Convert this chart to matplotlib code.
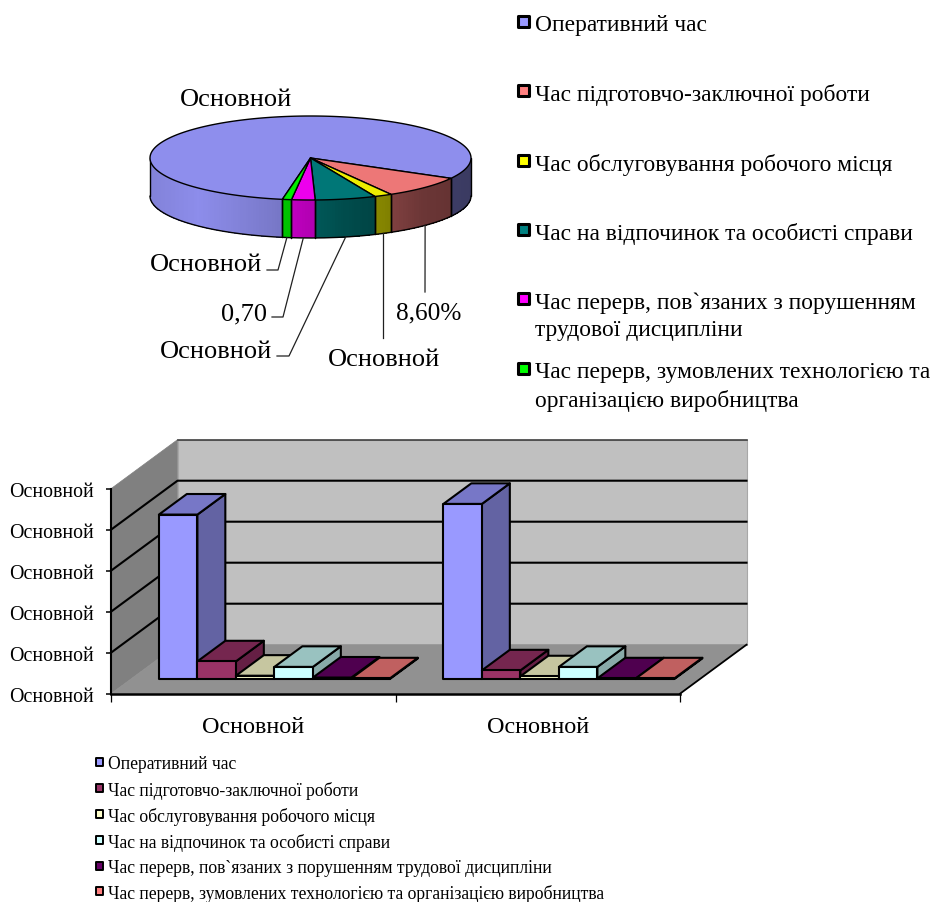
import numpy as np
import matplotlib
matplotlib.use("Agg")
import matplotlib.pyplot as plt
from matplotlib.patches import Polygon, Rectangle
from matplotlib.transforms import ScaledTranslation

plt.rcParams["font.family"] = ["Liberation Serif", "DejaVu Serif"]

# ---- data ----
series_names = [
    "Оперативний час",
    "Час підготовчо-заключної роботи",
    "Час обслуговування робочого місця",
    "Час на відпочинок та особисті справи",
    "Час перерв, пов`язаних з порушенням трудової дисципліни",
    "Час перерв, зумовлених технологією та організацією виробництва",
]
side_legend_rows = [
    ["Оперативний час"],
    ["Час підготовчо-заключної роботи"],
    ["Час обслуговування робочого місця"],
    ["Час на відпочинок та особисті справи"],
    ["Час перерв, пов`язаних з порушенням", "трудової дисципліни"],
    ["Час перерв, зумовлених технологією та", "організацією виробництва"],
]
pie_values = [23.79, 2.55, 0.53, 1.81, 0.70, 0.27]
group_1_values = [80.2, 8.6, 1.6, 5.9, 0.7, 0.3]
group_2_values = [85.4, 4.2, 1.3, 5.9, 0.3, 0.3]
placeholder = "Основной"
pie_colors = ["#9999ff", "#ff8080", "#ffff00", "#008080", "#ff00ff", "#00ff00"]
bar_front = ["#9999ff", "#993366", "#ffffcc", "#ccffff", "#660066", "#ff8080"]
bar_top = ["#7777c7", "#75264f", "#c6c6a0", "#99c2c0", "#4f004f", "#c06060"]
bar_side = ["#6363a3", "#651f44", "#a8a888", "#88aaa8", "#3c003c", "#a05050"]
y_ticks = [0, 20, 40, 60, 80, 100]

W, H = 931, 903
fig = plt.figure(figsize=(W / 100, H / 100), dpi=100, facecolor="white")


def fig_rect(x0, y0, x1, y1):
    """Figure-fraction rectangle from pixel edges measured from the top left."""
    return [x0 / W, 1 - y1 / H, (x1 - x0) / W, (y1 - y0) / H]


# Page layer for legends and labels, in pixel units.
page = fig.add_axes([0, 0, 1, 1], zorder=5)
page.set_xlim(0, W)
page.set_ylim(H, 0)
page.axis("off")
page.patch.set_alpha(0)

# ---- 3-D pie: top face is the unit circle stretched onto an ellipse ----
PIE_BOX = (150, 117, 471, 201)
pie = fig.add_axes(fig_rect(*PIE_BOX))
pie.set_xlim(-1, 1)
pie.set_ylim(-1, 1)
pie.axis("off")
THICK = 38 / 42
FIRST_ANGLE = 190.1


def to_pie(px, py):
    x0, y0, x1, y1 = PIE_BOX
    return (px - x0) / (x1 - x0) * 2 - 1, 1 - (py - y0) / (y1 - y0) * 2


def rim(phi):
    a = np.radians(phi)
    return np.sin(a), np.cos(a)


def side_shade(sx):
    return np.interp(sx, [-1, -0.7, -0.2, 0, 0.2, 0.5, 0.7, 1],
                     [0.85, 0.92, 0.78, 0.70, 0.60, 0.50, 0.42, 0.38])


total = sum(pie_values)
edges = FIRST_ANGLE + np.concatenate([[0], np.cumsum(pie_values)]) / total * 360
mid_angles = (edges[:-1] + edges[1:]) / 2
lk = dict(color="black", lw=1.0, clip_on=False, solid_capstyle="round")

# Side wall, only along the front half of the rim.
for i, col in enumerate(pie_colors):
    base = np.array(matplotlib.colors.to_rgb(col))
    for turn in (-360, 0, 360):
        lo = max(edges[i] + turn, 90)
        hi = min(edges[i + 1] + turn, 270)
        if hi <= lo:
            continue
        steps = np.linspace(lo, hi, max(2, int(hi - lo) + 2))
        for a0, a1 in zip(steps[:-1], steps[1:]):
            x0, y0 = rim(a0)
            x1, y1 = rim(a1)
            c = base * side_shade((x0 + x1) / 2)
            pie.add_patch(Polygon([(x0, y0), (x1, y1), (x1, y1 - THICK), (x0, y0 - THICK)],
                                  facecolor=c, edgecolor="none", lw=0, antialiased=False,
                                  clip_on=False, zorder=1))
        for a in (lo, hi):
            x, y = rim(a)
            pie.plot([x, x], [y, y - THICK], zorder=2, **lk)

front = np.linspace(90, 270, 200)
fx, fy = rim(front)
pie.plot(fx, fy - THICK, zorder=2, **lk)

# Top face.
for i, col in enumerate(pie_colors):
    arc = np.linspace(edges[i], edges[i + 1], 240)
    ax_, ay_ = rim(arc)
    pts = np.column_stack([np.r_[0, ax_], np.r_[0, ay_]])
    top = np.array(matplotlib.colors.to_rgb(col)) * 0.93
    pie.add_patch(Polygon(pts, closed=True, facecolor=top, edgecolor="black",
                          lw=1.0, clip_on=False, zorder=3, joinstyle="round"))

# Leader lines run from each slice's rim to its label.
leader_ends = {
    1: [(425, 293)],
    2: [(None, 339)],
    3: [(289, 357), (277, 357)],
    4: [(283, 318), (272, 318)],
    5: [(278, 271), (267, 271)],
}
for i, tail in leader_ends.items():
    sx, sy = rim(mid_angles[i])
    path = [(sx, sy - THICK)]
    for px, py in tail:
        # A missing x keeps the leader vertical under its slice.
        path.append((sx, to_pie(0, py)[1]) if px is None else to_pie(px, py))
    xs, ys = zip(*path)
    pie.plot(xs, ys, color="#202020", lw=0.9, clip_on=False, zorder=2)

pct_label = f"{pie_values[1] / total * 100:.2f}%".replace(".", ",")
raw_label = f"{pie_values[4]:.2f}".replace(".", ",")
pie_labels = [
    (236, 100, placeholder, 19),
    (206, 265, placeholder, 19),
    (244, 314, raw_label, 19),
    (216, 352, placeholder, 19),
    (384, 360, placeholder, 19),
    (429, 313, pct_label, 18.2),
]
for x, y, s, size in pie_labels:
    page.text(x, y, s, fontsize=size, ha="center", va="center", color="black")

# ---- side legend ----
side_y = [24, 93, 163, 232, 301, 371]
for rows, y, col in zip(side_legend_rows, side_y, pie_colors):
    page.add_patch(Rectangle((518.3, y - 7), 11, 11, facecolor=col, edgecolor="black",
                             lw=2.2, joinstyle="round"))
    for k, line in enumerate(rows):
        page.text(535, y + 2 + k * 28, line, fontsize=16.9, ha="left", va="center", color="black")

# ---- 3-D column chart drawn on real axes with an oblique depth offset ----
bars = fig.add_axes(fig_rect(111, 489.7, 680, 694.7))
bars.set_xlim(0, 2)
bars.set_ylim(0, 100)
bars.patch.set_alpha(0)
px_x = 2 / 569
px_y = 100 / 205
DEPTH_X = 66.5 * px_x
DEPTH_Y = 49 * px_y
Z_FRONT, Z_BACK = 0.30, 0.72
BAR_W = 38.5 * px_x
GAP = (1 - 6 * BAR_W) / 2 + 1.2 * px_x


def proj(x, y, z):
    return x + z * DEPTH_X, y + z * DEPTH_Y


def poly(pts, face, zorder, edge="black", lw=1.5):
    bars.add_patch(Polygon(pts, closed=True, facecolor=face, edgecolor=edge, lw=lw,
                           clip_on=False, zorder=zorder, joinstyle="round"))


# Walls and floor.
poly([proj(0, 0, 1), proj(2, 0, 1), proj(2, 100, 1), proj(0, 100, 1)], "#c0c0c0", 0.5,
     edge="#a8a8a8", lw=0.8)
poly([proj(0, 0, 0), proj(0, 0, 1), proj(0, 100, 1), proj(0, 100, 0)], "#808080", 0.6,
     edge="#808080", lw=0.5)
poly([proj(0, 0, 0), proj(2, 0, 0), proj(2, 0, 1), proj(0, 0, 1)], "#919191", 0.7,
     edge="#919191", lw=0.5)

for v in y_ticks[1:-1]:
    bars.plot(*zip(proj(0, v, 0), proj(0, v, 1), proj(2, v, 1)), color="black", lw=1.5,
              clip_on=False, zorder=0.8)
bars.plot(*zip(proj(0, 100, 1), proj(2, 100, 1)), color="#404040", lw=1.2,
          clip_on=False, zorder=0.8)
bars.plot(*zip(proj(2, 0, 0), proj(2, 0, 1)), color="black", lw=1.3, clip_on=False, zorder=0.8)

for g, values in enumerate([group_1_values, group_2_values]):
    for j, v in enumerate(values):
        x0 = g + GAP + j * BAR_W
        x1 = x0 + BAR_W
        z = 2 + g + j * 0.1
        poly([proj(x1, 0, Z_FRONT), proj(x1, 0, Z_BACK), proj(x1, v, Z_BACK), proj(x1, v, Z_FRONT)],
             bar_side[j], z)
        poly([proj(x0, v, Z_FRONT), proj(x1, v, Z_FRONT), proj(x1, v, Z_BACK), proj(x0, v, Z_BACK)],
             bar_top[j], z)
        poly([proj(x0, 0, Z_FRONT), proj(x1, 0, Z_FRONT), proj(x1, v, Z_FRONT), proj(x0, v, Z_FRONT)],
             bar_front[j], z)

for name in ("top", "right"):
    bars.spines[name].set_visible(False)
bars.spines["left"].set_linewidth(1.5)
bars.spines["bottom"].set_linewidth(1.8)
bars.set_yticks(y_ticks)
bars.set_yticklabels([placeholder] * len(y_ticks), fontsize=14.3)
bars.tick_params(axis="y", length=3.6, width=1.1, pad=9)
nudge = ScaledTranslation(0, -0.5 / 72, fig.dpi_scale_trans)
for lab in bars.get_yticklabels():
    lab.set_transform(lab.get_transform() + nudge)
bars.set_xticks([0, 1, 2])
bars.set_xticklabels([])
bars.tick_params(axis="x", which="major", length=5.5, width=0.9)
bars.set_xticks([0.5, 1.5], minor=True)
bars.set_xticklabels([placeholder, placeholder], minor=True, fontsize=17.4)
bars.tick_params(axis="x", which="minor", length=0, pad=16)

# ---- bottom legend ----
bottom_y = [764, 790, 816, 842, 868, 893]
for name, y, col in zip(series_names, bottom_y, bar_front):
    page.add_patch(Rectangle((95.7, y - 4.7), 7.5, 7.5, facecolor=col, edgecolor="black",
                             lw=1.4, joinstyle="round"))
    page.text(107.5, y + 1, name, fontsize=12.7, ha="left", va="center", color="black")

fig.savefig("out.png", dpi=100, facecolor="white")
